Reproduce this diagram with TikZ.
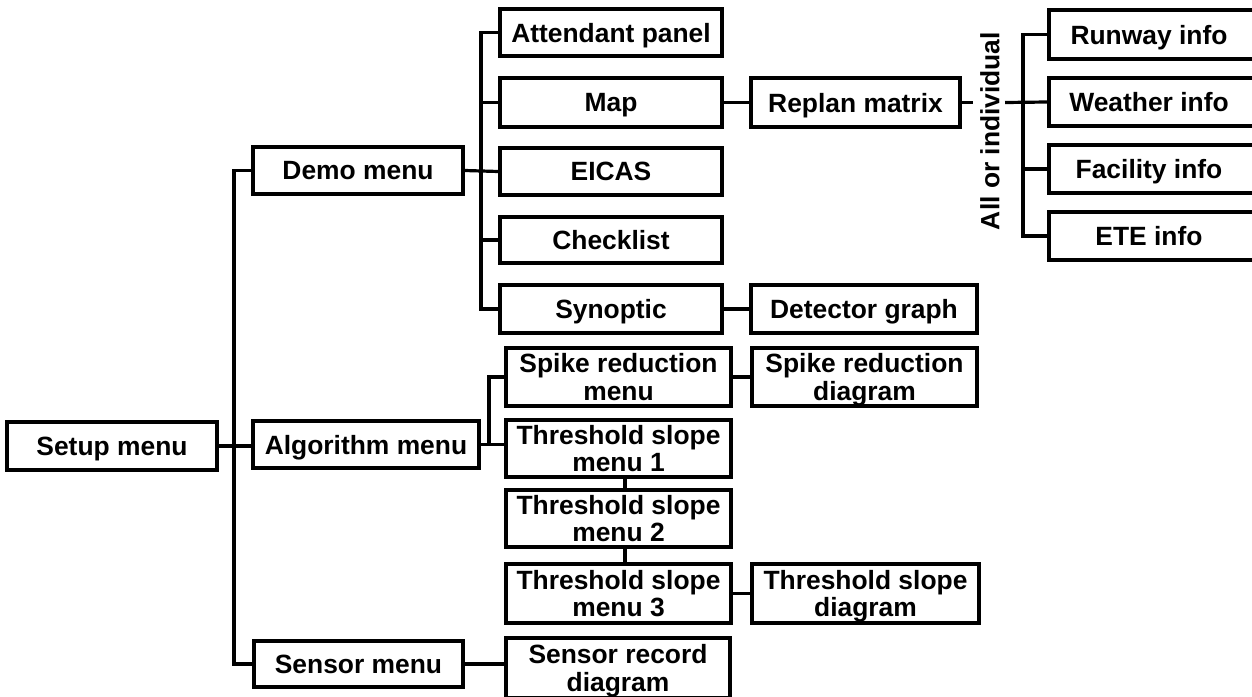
\documentclass[tikz,border=0pt]{standalone}
\usepackage{fontspec}
\setmainfont{Liberation Sans}
\usetikzlibrary{calc}
\tikzset{
  bx/.style={draw, line width=1.8pt, inner sep=0pt, align=center, text depth=0pt,
    font=\fontsize{13.2}{13.6}\selectfont\bfseries},
  ln/.style={line width=1.6pt},
}
\begin{document}
\begin{tikzpicture}[x=0.5pt, y=-0.5pt]
\useasboundingbox (0,0) rectangle (1252,696);
% level 0/1
\node[bx, minimum width=105pt, minimum height=24pt] (setup) at (112,446) {Setup menu};
\node[bx, minimum width=105pt, minimum height=23.5pt] (demo) at (358,170.5) {Demo menu};
\node[bx, minimum width=113pt, minimum height=23.5pt] (algo) at (366,444.5) {Algorithm menu};
\node[bx, minimum width=104.5pt, minimum height=23pt] (sensor) at (358.5,664) {Sensor menu};
% demo children
\node[bx, minimum width=111pt, minimum height=23.5pt] (attendant) at (611,32.5) {Attendant panel};
\node[bx, minimum width=111pt, minimum height=24.5pt] (map) at (611,102.5) {Map};
\node[bx, minimum width=111pt, minimum height=23.5pt] (eicas) at (611,171.5) {EICAS};
\node[bx, minimum width=111pt, minimum height=23pt] (checklist) at (611,240) {Checklist};
\node[bx, minimum width=111pt, minimum height=24pt] (synoptic) at (611,309) {Synoptic};
\node[bx, minimum width=104.5pt, minimum height=24.5pt] (replan) at (855.5,102.5) {Replan matrix};
\node[bx, minimum width=113pt, minimum height=24pt] (detector) at (864,309) {Detector graph};
% info boxes (cut by right edge)
\node[bx, minimum width=108pt, minimum height=24.5pt] (runway) at (1157,34.5) {\hspace*{-8pt}Runway info};
\node[bx, minimum width=108pt, minimum height=24pt] (weather) at (1157,102) {\hspace*{-8pt}Weather info};
\node[bx, minimum width=108pt, minimum height=24pt] (facility) at (1157,169) {\hspace*{-8pt}Facility info};
\node[bx, minimum width=108pt, minimum height=24pt] (ete) at (1157,236) {\hspace*{-8pt}ETE info};
\node[font=\fontsize{13.2}{13.6}\selectfont\bfseries, rotate=90, inner sep=0pt] (allind) at (990,131) {All or individual};
% algorithm children
\node[bx, minimum width=112.5pt, minimum height=29pt] (spikeM) at (618.5,377) {Spike reduction\\menu};
\node[bx, minimum width=112.5pt, minimum height=29pt] (spikeD) at (864.5,377) {Spike reduction\\diagram};
\node[bx, minimum width=112.5pt, minimum height=28.5pt] (tsm1) at (618.5,448.5) {Threshold slope\\menu 1};
\node[bx, minimum width=112.5pt, minimum height=28.5pt] (tsm2) at (618.5,518.5) {Threshold slope\\menu 2};
\node[bx, minimum width=112.5pt, minimum height=29.5pt] (tsm3) at (618.5,593.5) {Threshold slope\\menu 3};
\node[bx, minimum width=113.5pt, minimum height=29.5pt] (tsd) at (865.5,593.5) {Threshold slope\\diagram};
\node[bx, minimum width=112pt, minimum height=30pt] (srd) at (618,668) {Sensor record\\diagram};
% trunk coordinates
\coordinate (t0) at (234,0);
\coordinate (t1) at (481,0);
\coordinate (t2) at (489,0);
\coordinate (t3) at (1023,0);
\coordinate (stub) at (973,102.5);
\coordinate (lblR) at (1005,102.5);
% connectors
\draw[ln] (setup.east) -- (algo.west |- setup.east);
\draw[ln] (demo.west) -| (t0 |- sensor.west) -- (sensor.west);
\draw[ln] (attendant.west) -| (t1 |- synoptic.west) -- (synoptic.west);
\draw[ln] (demo.east) -- (eicas.west);
\draw[ln] (t1 |- map.west) -- (map.west);
\draw[ln] (t1 |- checklist.west) -- (checklist.west);
\draw[ln] (map.east) -- (replan.west);
\draw[ln] (synoptic.east) -- (detector.west);
\draw[ln] (replan.east) -- (stub);
\draw[ln] (lblR) -- (weather.west);
\draw[ln] (runway.west) -| (t3 |- ete.west) -- (ete.west);
\draw[ln] (t3 |- facility.west) -- (facility.west);
\draw[ln] (algo.east) -- (tsm1.west |- algo.east);
\draw[ln] (t2 |- algo.east) |- (spikeM.west);
\draw[ln] (spikeM.east) -- (spikeD.west);
\draw[ln] ($(tsm1.south)+(6.5,0)$) -- ($(tsm2.north)+(6.5,0)$);
\draw[ln] ($(tsm2.south)+(6.5,0)$) -- ($(tsm3.north)+(6.5,0)$);
\draw[ln] (tsm3.east) -- (tsd.west);
\draw[ln] (sensor.east) -- (srd.west |- sensor.east);
\end{tikzpicture}
\end{document}
